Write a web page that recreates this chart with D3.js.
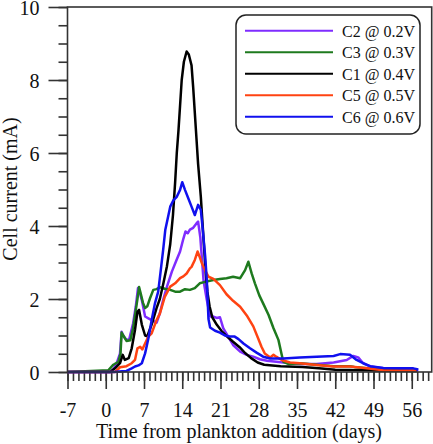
<!DOCTYPE html>
<html><head><meta charset="utf-8">
<script src="https://cdn.jsdelivr.net/npm/d3@7"></script>
<style>
html,body{margin:0;padding:0;background:#fff;}
svg{display:block;font-family:"Liberation Serif","Times New Roman",serif;}
</style></head>
<body>
<svg id="chart" width="433" height="444"></svg>
<script>
// ---- data ----
const xMajorTicks = [-7, 0, 7, 14, 21, 28, 35, 42, 49, 56];
const yMajorTicks = [0, 2, 4, 6, 8, 10];
const seriesNames = ["C2 @ 0.2V", "C3 @ 0.3V", "C1 @ 0.4V", "C5 @ 0.5V", "C6 @ 0.6V"];
const seriesColors = ["#7f2cff", "#1e7a1e", "#000000", "#ff4312", "#1010ee"];

const c2Days = [-7,0.8,1.5,2.0,2.6,2.9,3.2,3.8,4.3,5.0,5.5,5.9,6.2,6.6,7.2,7.8,8.4,9.3,9.9,10.5,11.2,12.1,12.9,13.6,14.2,14.6,15.0,15.4,16.0,16.6,16.9,17.3,17.6,17.9,18.5,19.1,19.7,20.3,20.9,21.5,22.4,23.3,24.6,25.8,27.0,28.2,29.5,32.5,35.5,38.6,41.7,44.1,45.3,46.2,47.1,48.4,50.8,53.9,57.2];
const c2Vals = [0,0,0.1,0.24,0.5,1.1,1.0,0.88,0.9,1.33,1.8,2.3,2.2,1.97,1.52,1.47,1.42,1.35,1.61,1.97,2.34,2.75,3.05,3.3,3.65,3.85,3.8,3.9,3.95,4.07,4.12,3.7,3.1,2.5,1.97,1.52,1.52,1.48,1.5,1.2,0.97,0.74,0.56,0.47,0.42,0.35,0.31,0.26,0.22,0.22,0.26,0.33,0.44,0.4,0.24,0.15,0.1,0.08,0.04];

const c3Days = [-7,0.5,1.4,2.3,2.7,2.9,3.2,3.8,4.5,5.0,5.4,5.8,6.1,6.4,6.8,7.2,7.6,8.1,8.7,9.3,9.9,10.8,11.8,12.7,13.6,14.5,15.4,16.3,17.2,18.2,19.7,20.9,22.1,23.3,24.6,25.5,26.1,26.7,27.3,28.1,28.8,29.8,30.7,31.6,32.2,32.5,33.5,35.5,38.6,41.7,44.7,45.5,47.8,50.8,56.9];
const c3Vals = [0,0.05,0.2,0.28,0.5,1.08,1.0,0.85,0.87,1.2,1.6,2.0,2.33,2.15,1.9,1.75,1.8,2.02,2.25,2.27,2.32,2.28,2.25,2.2,2.2,2.27,2.25,2.3,2.43,2.47,2.52,2.55,2.57,2.61,2.57,2.79,3.02,2.7,2.43,2.1,1.88,1.56,1.2,0.88,0.47,0.28,0.22,0.24,0.2,0.16,0.16,0.14,0.1,0.05,0.03];

const c1Days = [-7,0.8,1.7,2.6,3.1,3.5,4.2,4.75,5.35,5.8,6.1,6.6,7.2,7.6,8.4,9.3,9.9,10.5,11.2,11.8,12.3,12.7,13.0,13.3,13.6,13.9,14.3,14.8,15.2,15.7,16.0,16.3,16.6,16.9,17.4,18.0,18.3,18.6,19.0,19.5,20.3,21.2,22.0,23.3,24.5,25.5,26.6,27.8,29.0,32.0,36.0,39.0,42.0,50.0,57.0];
const c1Vals = [0,0,0.1,0.24,0.47,0.33,0.38,0.65,1.15,1.65,1.7,1.3,1.0,0.98,1.3,1.75,2.0,2.4,2.9,3.5,4.3,5.2,6.0,6.6,7.3,8.0,8.5,8.78,8.7,8.4,7.8,7.1,6.4,5.7,4.8,3.4,2.7,2.2,1.8,1.5,1.3,1.12,1.0,0.83,0.68,0.52,0.38,0.26,0.2,0.16,0.14,0.1,0.06,0.04,0.03];

const c5Days = [-7,1.7,2.6,3.8,4.75,5.35,5.8,6.3,6.7,7.2,7.8,8.4,9.3,9.9,10.8,11.8,12.7,13.6,14.2,14.8,15.4,15.7,16.3,16.8,17.2,17.6,18.2,18.8,19.7,20.9,22.1,23.3,24.6,25.8,27.0,27.9,28.5,29.1,30.1,30.7,31.2,32.2,33.7,35.5,38.6,41.7,44.7,47.8,50.8,56.9];
const c5Vals = [0,0,0.13,0.16,0.24,0.33,0.65,0.69,0.62,0.78,0.97,1.06,1.42,1.6,2.06,2.34,2.43,2.57,2.62,2.7,2.84,2.88,3.07,3.3,3.15,2.98,2.79,2.61,2.55,2.38,2.13,1.95,1.79,1.55,1.25,0.92,0.69,0.51,0.4,0.47,0.42,0.33,0.26,0.24,0.19,0.15,0.15,0.1,0.05,0.04];

const c6Days = [-7,1.5,3.0,3.8,4.75,5.35,6.0,6.6,7.2,7.8,8.4,9.0,9.6,10.0,10.5,10.9,11.8,12.4,13.0,13.6,14.0,14.5,15.1,15.7,16.3,16.9,17.4,17.7,18.2,18.5,18.8,19.1,20.0,20.9,21.8,22.7,23.6,24.3,25.2,26.4,27.6,28.8,30.1,32.5,35.5,38.6,41.7,42.9,44.7,45.9,47.1,48.4,50.8,53.9,56.3,57.2];
const c6Vals = [0,0,0.02,0.03,0.1,0.15,0.18,0.24,0.51,0.92,1.42,1.88,2.2,2.7,3.34,3.9,4.53,4.71,4.8,4.99,5.2,4.99,4.76,4.53,4.3,4.58,4.44,3.98,3.16,2.5,1.45,1.22,1.13,1.08,1.0,0.97,0.97,0.9,0.78,0.65,0.53,0.42,0.37,0.37,0.4,0.42,0.44,0.49,0.47,0.33,0.24,0.16,0.11,0.1,0.1,0.07];

const seriesDays = [c2Days, c3Days, c1Days, c5Days, c6Days];
const seriesVals = [c2Vals, c3Vals, c1Vals, c5Vals, c6Vals];

// ---- chart ----
const svg = d3.select("#chart");
const pL = 67.5, pR = 431.7, pT = 7, pB = 372;
const x = d3.scaleLinear().domain([-7, 59.65]).range([pL, pR]);
const y = d3.scaleLinear().domain([0, 10]).range([pB, pT]);
const axisColor = "#333";
const fontFam = '"Liberation Serif","Times New Roman",serif';

const gxMinor = svg.append("g").attr("transform", `translate(0,${pB})`)
  .call(d3.axisBottom(x).tickValues(d3.range(-7, 60)).tickSize(9).tickFormat(""));
const gxMajor = svg.append("g").attr("transform", `translate(0,${pB})`)
  .call(d3.axisBottom(x).tickValues(xMajorTicks).tickSize(17).tickPadding(12)
    .tickFormat(d => d < 0 ? "-" + Math.abs(d) : String(d)));
const gyMinor = svg.append("g").attr("transform", `translate(${pL},0)`)
  .call(d3.axisLeft(y).tickValues(d3.range(0, 10.01, 0.5)).tickSize(9).tickFormat(""));
const gyMajor = svg.append("g").attr("transform", `translate(${pL},0)`)
  .call(d3.axisLeft(y).tickValues(yMajorTicks).tickSize(19).tickPadding(9).tickFormat(d3.format("d")));

[gxMinor, gxMajor, gyMinor, gyMajor].forEach(g => {
  g.select(".domain").remove();
  g.selectAll(".tick line").attr("stroke", axisColor).attr("stroke-width", 1.6);
  g.selectAll("text").attr("fill", "#111").attr("font-family", fontFam).attr("font-size", 20);
});
gxMajor.selectAll("text").attr("dy", null).attr("y", 45);
gyMajor.selectAll("text").attr("dy", "0.36em");

const line = d3.line().x(d => x(d[0])).y(d => y(d[1]));
seriesNames.forEach((name, i) => {
  const pts = seriesDays[i].map((d, j) => [d, seriesVals[i][j]]);
  svg.append("path").datum(pts)
    .attr("d", line)
    .attr("fill", "none")
    .attr("stroke", seriesColors[i])
    .attr("stroke-width", 2.5)
    .attr("stroke-linejoin", "round");
});

svg.append("rect").attr("x", pL).attr("y", pT)
  .attr("width", pR - pL).attr("height", pB - pT)
  .attr("fill", "none").attr("stroke", axisColor).attr("stroke-width", 1.6);

svg.append("text").attr("x", 239).attr("y", 438).attr("text-anchor", "middle")
  .attr("font-family", fontFam).attr("font-size", 20).attr("fill", "#111")
  .text("Time from plankton addition (days)");
svg.append("text").attr("transform", "translate(17,189) rotate(-90)").attr("text-anchor", "middle")
  .attr("font-family", fontFam).attr("font-size", 20).attr("fill", "#111")
  .text("Cell current (mA)");

const lg = svg.append("g");
lg.append("rect").attr("x", 236).attr("y", 15).attr("width", 184).attr("height", 119)
  .attr("rx", 10).attr("ry", 10).attr("fill", "#fff").attr("stroke", "#222").attr("stroke-width", 1.5);
seriesNames.forEach((name, i) => {
  const ly = 30.7 + i * 21.5;
  lg.append("line").attr("x1", 245).attr("x2", 333).attr("y1", ly).attr("y2", ly)
    .attr("stroke", seriesColors[i]).attr("stroke-width", 2);
  lg.append("text").attr("x", 342).attr("y", ly + 6)
    .attr("font-family", fontFam).attr("font-size", 16).attr("fill", "#111").text(name);
});
</script>
</body></html>
